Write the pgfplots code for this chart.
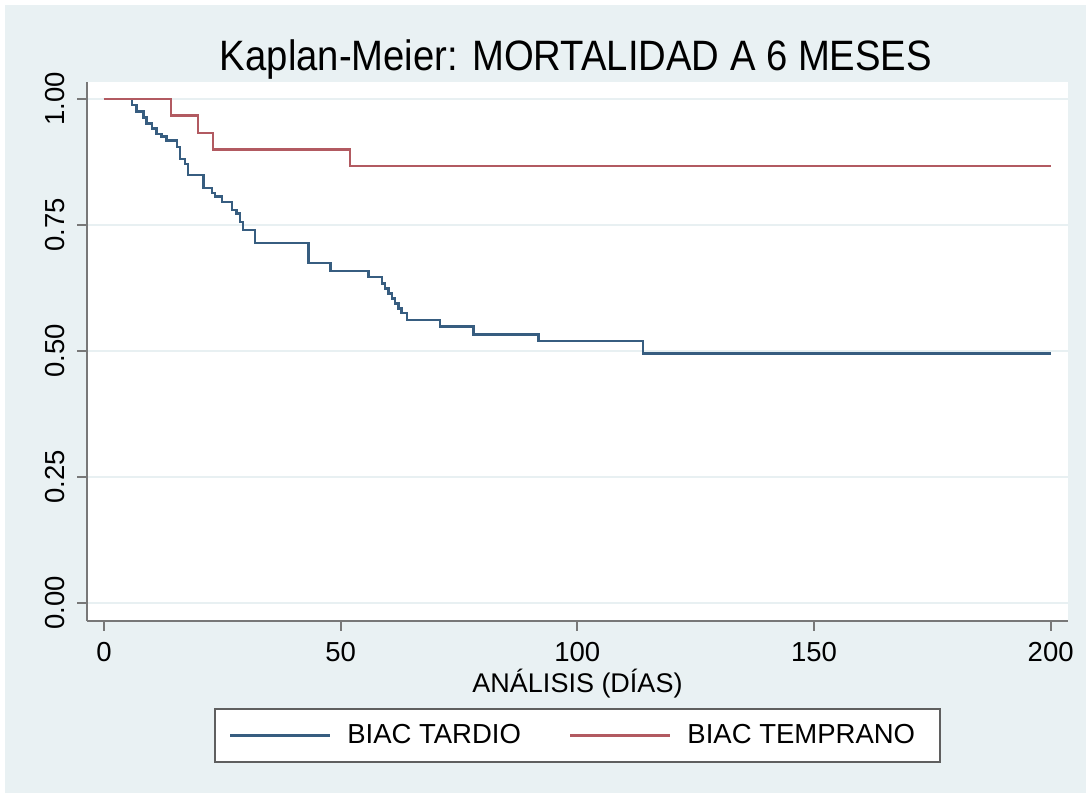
\documentclass[border=0pt]{standalone}
\usepackage{fontspec}
\setmainfont{Liberation Sans}
\newfontfamily\titlefont[FakeStretch=0.9]{Liberation Sans}
\usepackage{pgfplots}
\pgfplotsset{compat=1.18}
\definecolor{bgcol}{RGB}{233,241,243}
\definecolor{gridcol}{RGB}{232,240,242}
\definecolor{axcol}{RGB}{120,120,120}
\definecolor{kmblue}{RGB}{55,93,128}
\definecolor{kmred}{RGB}{178,90,97}
\definecolor{legframe}{RGB}{95,95,95}

\pgfplotstableread{
day surv
0 1.000
5.9 0.988
6.9 0.975
8.3 0.963
9.0 0.951
10.1 0.941
11.1 0.931
12.2 0.926
13.2 0.918
15.4 0.905
16.1 0.881
17.1 0.871
17.8 0.849
21.0 0.823
22.8 0.813
23.5 0.806
24.9 0.796
27.0 0.780
28.0 0.773
28.7 0.756
29.4 0.740
31.9 0.714
43.2 0.674
47.8 0.659
55.9 0.647
58.7 0.634
59.4 0.624
60.1 0.614
60.8 0.604
61.5 0.594
62.2 0.584
62.9 0.575
64.0 0.561
71.0 0.548
78.1 0.532
91.8 0.520
113.9 0.495
200 0.495
}\tardio

\pgfplotstableread{
day surv
0 1.000
14.2 0.967
19.9 0.933
23.0 0.900
52.0 0.867
200 0.867
}\temprano

\begin{document}
\begin{tikzpicture}
\useasboundingbox (0,0) rectangle (434.4pt,317.2pt);
\fill[white] (0,0) rectangle (434.4pt,317.2pt);
\fill[bgcol] (2pt,0) rectangle (434.4pt,315.2pt);
\begin{axis}[
 at={(34.8pt,68.8pt)}, anchor=south west,
 scale only axis, width=392.4pt, height=215.7pt,
 xmin=-3.59, xmax=203.66, ymin=-0.0363, ymax=1.0343,
 axis x line*=bottom, axis y line*=left,
 axis background/.style={fill=white},
 axis line style={axcol, line width=0.8pt},
 xtick={0,50,100,150,200}, xticklabels={0,50,100,150,200},
 ytick={0,0.25,0.5,0.75,1}, yticklabels={0.00,0.25,0.50,0.75,1.00},
 tick style={axcol, line width=0.8pt}, major tick length=4pt, tick align=outside,
 ymajorgrids, grid style={gridcol, line width=0.8pt},
 ticklabel style={font=\fontsize{11}{13}\selectfont, inner sep=0pt, text=black},
 xticklabel style={anchor=north},
 yticklabel style={rotate=90, anchor=south},
 xticklabel shift=4.3pt, yticklabel shift=4.8pt,
 every axis title shift=0pt,
 title={Kaplan-Meier: MORTALIDAD A 6 MESES},
 title style={font=\titlefont\fontsize{17}{20}\selectfont, at={(axis description cs:0.4985,1.0217)}, anchor=base, inner sep=0pt},
 xlabel={ANÁLISIS (DÍAS)},
 xlabel style={font=\fontsize{10.8}{13}\selectfont, at={(axis description cs:0.5,-0.1317)}, anchor=base, inner sep=0pt},
 legend columns=2,
 legend cell align=left,
 legend image code/.code={\draw[#1] (0pt,0pt) -- (40pt,0pt);},
 legend style={
   at={(axis description cs:0.1295,-0.1613)}, anchor=north west,
   draw=legframe, line width=0.8pt, fill=white,
   inner xsep=5.5pt, inner ysep=6pt,
   font=\fontsize{11}{13}\selectfont,
   nodes={inner sep=0pt},
   /tikz/every odd column/.append style={column sep=6.4pt},
   /tikz/every even column/.append style={column sep=19.2pt},
 },
]
\addplot[const plot, kmblue, line width=1pt] table[x=day, y=surv] {\tardio};
\addlegendentry{BIAC TARDIO}
\addplot[const plot, kmred, line width=1pt] table[x=day, y=surv] {\temprano};
\addlegendentry{BIAC TEMPRANO\hspace{4.4pt}\null}
\end{axis}
\end{tikzpicture}
\end{document}
